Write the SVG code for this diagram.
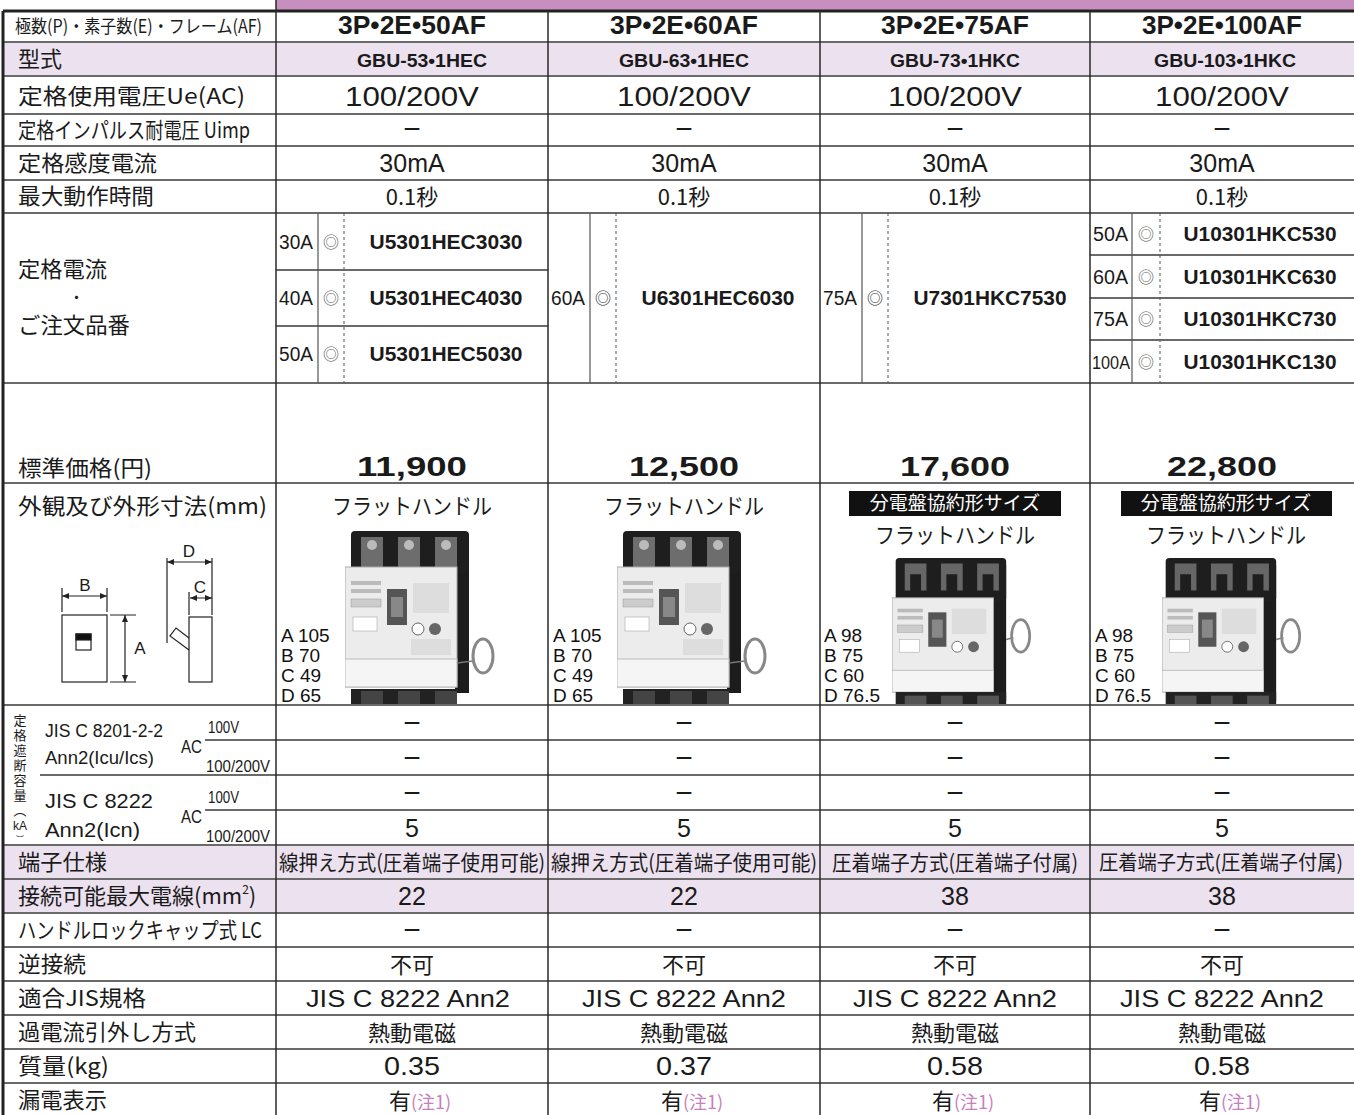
<svg xmlns="http://www.w3.org/2000/svg" xmlns:xlink="http://www.w3.org/1999/xlink" width="1354" height="1115" viewBox="0 0 1354 1115">
<style>
.h{stroke:#6a6a6a;stroke-width:2;fill:none}
.v{stroke:#2a2a2a;stroke-width:1.5;fill:none}
.s{stroke:#555;stroke-width:1.2;fill:none}
.d{stroke:#555;stroke-width:1;stroke-dasharray:3 3;fill:none}
.jp{font-family:"Noto Sans CJK JP","Noto Sans CJK SC",sans-serif;fill:#1a1a1a}
.en{font-family:"Liberation Sans",Arial,sans-serif;fill:#1a1a1a}
.lb{font-size:22px}
.c{text-anchor:middle}
.b{font-weight:bold}
.note{fill:#c77ec0;font-size:18px}
.dim{font-family:"Liberation Sans",Arial,sans-serif;font-size:19px;fill:#111}
.dash{font-family:"Liberation Sans",Arial,sans-serif;font-size:30px;fill:#1a1a1a;text-anchor:middle}
</style>
<defs>
<clipPath id="photoRow"><rect x="276" y="484" width="1078" height="220"/></clipPath>
<symbol id="brkA" viewBox="0 0 160 180">
<rect x="110" y="22" width="14" height="140" fill="#1c1c1c"/>
<rect x="6" y="0" width="118" height="42" rx="4" fill="#1e1e1e"/>
<rect x="16" y="6" width="22" height="30" fill="#6d6d6d"/>
<rect x="53" y="6" width="22" height="30" fill="#6d6d6d"/>
<rect x="90" y="6" width="22" height="30" fill="#6d6d6d"/>
<circle cx="27" cy="14" r="5" fill="#bbb"/><circle cx="64" cy="14" r="5" fill="#bbb"/><circle cx="101" cy="14" r="5" fill="#bbb"/>
<rect x="0" y="36" width="112" height="120" fill="#ececec" stroke="#aaa"/>
<rect x="0" y="128" width="112" height="28" fill="#f5f5f5" stroke="#bbb"/>
<rect x="42" y="58" width="20" height="36" fill="#555"/>
<rect x="46" y="66" width="12" height="20" fill="#888"/>
<rect x="6" y="50" width="30" height="4" fill="#bbb"/><rect x="6" y="58" width="30" height="4" fill="#bbb"/>
<rect x="6" y="68" width="30" height="8" fill="#ccc" stroke="#999" stroke-width="0.5"/>
<rect x="8" y="86" width="24" height="14" fill="#fff" stroke="#999" stroke-width="0.5"/>
<rect x="68" y="52" width="36" height="30" fill="#ddd"/>
<circle cx="73" cy="98" r="6" fill="#fff" stroke="#666"/>
<circle cx="90" cy="98" r="6" fill="#666"/>
<rect x="66" y="108" width="40" height="16" fill="#ddd"/>
<rect x="6" y="158" width="106" height="22" fill="#222"/>
<rect x="16" y="160" width="22" height="18" fill="#444"/><rect x="53" y="160" width="22" height="18" fill="#444"/><rect x="90" y="160" width="22" height="18" fill="#444"/>
<path d="M112 132 L128 130" stroke="#777" stroke-width="1.5"/>
<ellipse cx="138" cy="125" rx="10" ry="17" fill="none" stroke="#888" stroke-width="3"/>
</symbol>
<symbol id="brkB" viewBox="0 0 160 180">
<rect x="110" y="8" width="16" height="150" fill="#1c1c1c"/>
<rect x="4" y="0" width="122" height="48" rx="4" fill="#1e1e1e"/>
<path d="M14 6 h24 v30 h-6 v-18 h-12 v18 h-6z" fill="#666"/>
<path d="M54 6 h24 v30 h-6 v-18 h-12 v18 h-6z" fill="#666"/>
<path d="M94 6 h24 v30 h-6 v-18 h-12 v18 h-6z" fill="#666"/>
<rect x="0" y="44" width="112" height="104" fill="#ececec" stroke="#aaa"/>
<rect x="0" y="124" width="112" height="24" fill="#f5f5f5" stroke="#bbb"/>
<rect x="40" y="60" width="20" height="38" fill="#555"/>
<rect x="44" y="68" width="12" height="20" fill="#888"/>
<rect x="6" y="56" width="28" height="4" fill="#bbb"/><rect x="6" y="64" width="28" height="4" fill="#bbb"/>
<rect x="6" y="74" width="28" height="8" fill="#ccc" stroke="#999" stroke-width="0.5"/>
<rect x="8" y="90" width="22" height="14" fill="#fff" stroke="#999" stroke-width="0.5"/>
<rect x="66" y="56" width="38" height="28" fill="#ddd"/>
<circle cx="72" cy="98" r="6" fill="#fff" stroke="#666"/>
<circle cx="90" cy="98" r="6" fill="#666"/>
<rect x="4" y="148" width="122" height="32" fill="#222"/>
<rect x="14" y="152" width="24" height="26" fill="#555"/><rect x="54" y="152" width="24" height="26" fill="#555"/><rect x="94" y="152" width="24" height="26" fill="#555"/>
<path d="M126 90 L134 88" stroke="#777" stroke-width="1.5"/>
<ellipse cx="142" cy="86" rx="10" ry="18" fill="none" stroke="#888" stroke-width="3"/>
</symbol>
</defs>

<g id="background">
<rect x="0" y="0" width="1354" height="1115" fill="#ffffff"/>
<rect x="276" y="0" width="1078" height="10" fill="#c68fc0"/>
<rect x="3" y="42" width="1351" height="34" fill="#ece1ef"/>
<rect x="3" y="845" width="1351" height="68" fill="#ece1ef"/>
</g>

<g id="grid">
<path class="h" d="M3 42H1354M3 76H1354M3 114H1354M3 146H1354M3 180H1354M3 213H1354M3 383H1354M3 483H1354M3 705H1354M40 775H1354M3 845H1354M3 879H1354M3 913H1354M3 947H1354M3 981H1354M3 1015H1354M3 1049H1354M3 1083H1354"/>
<path class="h" d="M205 740H1354M205 810H1354"/>
<path class="h" d="M276 270H548M276 326H548M1090 255H1354M1090 298H1354M1090 340H1354"/>
<path d="M3 11H1354" stroke="#222" stroke-width="3"/>
<path d="M3 11V1115" stroke="#222" stroke-width="3"/>
<path class="v" d="M276 0V1115M548 11V1115M820 11V1115M1090 11V1115"/>
<path class="s" d="M318 213V383M590 213V383M862 213V383M1132 213V383"/>
<path class="d" d="M344 213V383M616 213V383M888 213V383M1160 213V383"/>
</g>

<g id="labels" class="jp lb">
<text x="15" y="33" font-size="18" textLength="247" lengthAdjust="spacingAndGlyphs">極数(P)・素子数(E)・フレーム(AF)</text>
<text x="18" y="67">型式</text>
<text x="18" y="104" textLength="227" lengthAdjust="spacingAndGlyphs">定格使用電圧Ue(AC)</text>
<text x="18" y="138" textLength="232" lengthAdjust="spacingAndGlyphs">定格インパルス耐電圧 Uimp</text>
<text x="18" y="171" textLength="139" lengthAdjust="spacingAndGlyphs">定格感度電流</text>
<text x="18" y="204" textLength="136" lengthAdjust="spacingAndGlyphs">最大動作時間</text>
<text x="18" y="277" textLength="89" lengthAdjust="spacingAndGlyphs">定格電流</text>
<text x="69" y="303" font-size="15">・</text>
<text x="18" y="333" textLength="112" lengthAdjust="spacingAndGlyphs">ご注文品番</text>
<text x="18" y="476" textLength="134" lengthAdjust="spacingAndGlyphs">標準価格(円)</text>
<text x="18" y="514" textLength="249" lengthAdjust="spacingAndGlyphs">外観及び外形寸法(mm)</text>
<text x="18" y="870" textLength="89" lengthAdjust="spacingAndGlyphs">端子仕様</text>
<text x="18" y="904">接続可能最大電線(mm<tspan font-size="12" dy="-10">2</tspan><tspan dy="10">)</tspan></text>
<text x="18" y="938" textLength="244" lengthAdjust="spacingAndGlyphs">ハンドルロックキャップ式 LC</text>
<text x="18" y="972" textLength="68" lengthAdjust="spacingAndGlyphs">逆接続</text>
<text x="18" y="1006" textLength="128" lengthAdjust="spacingAndGlyphs">適合JIS規格</text>
<text x="18" y="1040" textLength="178" lengthAdjust="spacingAndGlyphs">過電流引外し方式</text>
<text x="18" y="1074" textLength="91" lengthAdjust="spacingAndGlyphs">質量(kg)</text>
<text x="18" y="1108" textLength="89" lengthAdjust="spacingAndGlyphs">漏電表示</text>
</g>

<g id="breaking-label" class="jp">
<text x="20" y="714" writing-mode="tb" font-size="13" letter-spacing="2">定格遮断容量︵</text>
<text x="20" y="830" class="c en" font-size="12">kA</text>
<text x="20" y="842" class="c" font-size="8">︶</text>
<g class="en">
<text x="45" y="737" font-size="18" textLength="118" lengthAdjust="spacingAndGlyphs">JIS C 8201-2-2</text>
<text x="45" y="764" font-size="18" textLength="109" lengthAdjust="spacingAndGlyphs">Ann2(Icu/Ics)</text>
<text x="181" y="753" font-size="18" textLength="21" lengthAdjust="spacingAndGlyphs">AC</text>
<text x="208" y="733" font-size="16" textLength="31" lengthAdjust="spacingAndGlyphs">100V</text>
<text x="206" y="772" font-size="16" textLength="64" lengthAdjust="spacingAndGlyphs">100/200V</text>
<text x="45" y="808" font-size="21" textLength="108" lengthAdjust="spacingAndGlyphs">JIS C 8222</text>
<text x="45" y="837" font-size="21" textLength="95" lengthAdjust="spacingAndGlyphs">Ann2(Icn)</text>
<text x="181" y="823" font-size="18" textLength="21" lengthAdjust="spacingAndGlyphs">AC</text>
<text x="208" y="803" font-size="16" textLength="31" lengthAdjust="spacingAndGlyphs">100V</text>
<text x="206" y="842" font-size="16" textLength="64" lengthAdjust="spacingAndGlyphs">100/200V</text>
</g>
</g>

<g id="dimension-figure" stroke="#222" stroke-width="1.2" fill="none">
<rect x="62" y="615" width="45" height="67" fill="#fff"/>
<rect x="76" y="634" width="15" height="16" fill="#fff"/>
<rect x="76" y="634" width="15" height="6" fill="#111"/>
<path d="M62 588V612M107 588V612M62 596H107"/>
<path d="M110 615H136M110 682H136M125 615V682"/>
<rect x="189" y="617" width="23" height="65" fill="#fff"/>
<path d="M189 650L170 636L176 628L189 638"/>
<path d="M167 558V643M212 558V615M189 592V615M167 562H212M190 598H212"/>
<g fill="#222" stroke="none">
<path d="M62 596l7 -3v6zM107 596l-7 -3v6zM125 615l-3 7h6zM125 682l-3 -7h6zM167 562l7 -3v6zM212 562l-7 -3v6zM190 598l7 -3v6zM212 598l-7 -3v6z"/>
</g>
<g class="en" stroke="none" fill="#111" font-size="17">
<text x="85" y="591" class="c">B</text>
<text x="140" y="654" class="c">A</text>
<text x="189" y="557" class="c">D</text>
<text x="200" y="593" class="c">C</text>
</g>
</g>

<g id="photos" clip-path="url(#photoRow)">
<use xlink:href="#brkA" href="#brkA" x="345" y="531" width="160" height="180"/>
<use xlink:href="#brkA" href="#brkA" x="617" y="531" width="160" height="180"/>
<use xlink:href="#brkB" href="#brkB" x="892" y="558" width="145" height="163"/>
<use xlink:href="#brkB" href="#brkB" x="1162" y="558" width="145" height="163"/>
</g>

<g id="col1">
<text class="en b c" x="412" y="34" font-size="26" textLength="148" lengthAdjust="spacingAndGlyphs">3P•2E•50AF</text>
<text class="en b c" x="422" y="67" font-size="19" textLength="130" lengthAdjust="spacingAndGlyphs">GBU-53•1HEC</text>
<text class="en c" x="412" y="106" font-size="27" textLength="134" lengthAdjust="spacingAndGlyphs">100/200V</text>
<text class="dash" x="412" y="139">−</text>
<text class="en c" x="412" y="172" font-size="25">30mA</text>
<text class="jp c" x="412" y="205" font-size="22">0.1秒</text>
<g class="en" font-size="20">
<text x="279" y="249" textLength="34" lengthAdjust="spacingAndGlyphs">30A</text>
<text x="279" y="305" textLength="34" lengthAdjust="spacingAndGlyphs">40A</text>
<text x="279" y="361" textLength="34" lengthAdjust="spacingAndGlyphs">50A</text>
</g>
<g class="jp c" font-size="16">
<text x="331" y="248" fill="#555">◎</text><text x="331" y="304" fill="#555">◎</text><text x="331" y="360" fill="#555">◎</text>
</g>
<g class="en b c" font-size="20">
<text x="446" y="249" textLength="153" lengthAdjust="spacingAndGlyphs">U5301HEC3030</text>
<text x="446" y="305" textLength="153" lengthAdjust="spacingAndGlyphs">U5301HEC4030</text>
<text x="446" y="361" textLength="153" lengthAdjust="spacingAndGlyphs">U5301HEC5030</text>
</g>
<text class="en b c" x="412" y="476" font-size="28" textLength="110" lengthAdjust="spacingAndGlyphs">11,900</text>
<text class="jp c" x="412" y="514" font-size="22" textLength="160" lengthAdjust="spacingAndGlyphs">フラットハンドル</text>
<g class="dim"><text x="281" y="642">A 105</text><text x="281" y="662">B 70</text><text x="281" y="682">C 49</text><text x="281" y="702">D 65</text></g>
<text class="dash" x="412" y="733">−</text><text class="dash" x="412" y="768">−</text><text class="dash" x="412" y="803">−</text>
<text class="en c" x="412" y="837" font-size="25">5</text>
<text class="jp c" x="412" y="870" font-size="21" textLength="266" lengthAdjust="spacingAndGlyphs">線押え方式(圧着端子使用可能)</text>
<text class="en c" x="412" y="905" font-size="25">22</text>
<text class="dash" x="412" y="940">−</text>
<text class="jp c" x="412" y="973" font-size="22">不可</text>
<text class="en c" x="408" y="1007" font-size="24" textLength="204" lengthAdjust="spacingAndGlyphs">JIS C 8222 Ann2</text>
<text class="jp c" x="412" y="1041" font-size="22">熱動電磁</text>
<text class="en c" x="412" y="1075" font-size="25" textLength="56" lengthAdjust="spacingAndGlyphs">0.35</text>
<text class="jp" x="389" y="1109" font-size="22">有<tspan class="note">(注1)</tspan></text>
</g>

<g id="col2">
<text class="en b c" x="684" y="34" font-size="26" textLength="148" lengthAdjust="spacingAndGlyphs">3P•2E•60AF</text>
<text class="en b c" x="684" y="67" font-size="19" textLength="130" lengthAdjust="spacingAndGlyphs">GBU-63•1HEC</text>
<text class="en c" x="684" y="106" font-size="27" textLength="134" lengthAdjust="spacingAndGlyphs">100/200V</text>
<text class="dash" x="684" y="139">−</text>
<text class="en c" x="684" y="172" font-size="25">30mA</text>
<text class="jp c" x="684" y="205" font-size="22">0.1秒</text>
<text class="en" x="551" y="305" font-size="20" textLength="34" lengthAdjust="spacingAndGlyphs">60A</text>
<text class="jp c" x="603" y="304" font-size="16" fill="#555">◎</text>
<text class="en b c" x="718" y="305" font-size="20" textLength="153" lengthAdjust="spacingAndGlyphs">U6301HEC6030</text>
<text class="en b c" x="684" y="476" font-size="28" textLength="110" lengthAdjust="spacingAndGlyphs">12,500</text>
<text class="jp c" x="684" y="514" font-size="22" textLength="160" lengthAdjust="spacingAndGlyphs">フラットハンドル</text>
<g class="dim"><text x="553" y="642">A 105</text><text x="553" y="662">B 70</text><text x="553" y="682">C 49</text><text x="553" y="702">D 65</text></g>
<text class="dash" x="684" y="733">−</text><text class="dash" x="684" y="768">−</text><text class="dash" x="684" y="803">−</text>
<text class="en c" x="684" y="837" font-size="25">5</text>
<text class="jp c" x="684" y="870" font-size="21" textLength="266" lengthAdjust="spacingAndGlyphs">線押え方式(圧着端子使用可能)</text>
<text class="en c" x="684" y="905" font-size="25">22</text>
<text class="dash" x="684" y="940">−</text>
<text class="jp c" x="684" y="973" font-size="22">不可</text>
<text class="en c" x="684" y="1007" font-size="24" textLength="204" lengthAdjust="spacingAndGlyphs">JIS C 8222 Ann2</text>
<text class="jp c" x="684" y="1041" font-size="22">熱動電磁</text>
<text class="en c" x="684" y="1075" font-size="25" textLength="56" lengthAdjust="spacingAndGlyphs">0.37</text>
<text class="jp" x="661" y="1109" font-size="22">有<tspan class="note">(注1)</tspan></text>
</g>

<g id="col3">
<text class="en b c" x="955" y="34" font-size="26" textLength="148" lengthAdjust="spacingAndGlyphs">3P•2E•75AF</text>
<text class="en b c" x="955" y="67" font-size="19" textLength="130" lengthAdjust="spacingAndGlyphs">GBU-73•1HKC</text>
<text class="en c" x="955" y="106" font-size="27" textLength="134" lengthAdjust="spacingAndGlyphs">100/200V</text>
<text class="dash" x="955" y="139">−</text>
<text class="en c" x="955" y="172" font-size="25">30mA</text>
<text class="jp c" x="955" y="205" font-size="22">0.1秒</text>
<text class="en" x="823" y="305" font-size="20" textLength="34" lengthAdjust="spacingAndGlyphs">75A</text>
<text class="jp c" x="875" y="304" font-size="16" fill="#555">◎</text>
<text class="en b c" x="990" y="305" font-size="20" textLength="153" lengthAdjust="spacingAndGlyphs">U7301HKC7530</text>
<text class="en b c" x="955" y="476" font-size="28" textLength="110" lengthAdjust="spacingAndGlyphs">17,600</text>
<rect x="849" y="491" width="212" height="25" fill="#111"/>
<text class="jp c" x="955" y="510" font-size="19" style="fill:#fff">分電盤協約形サイズ</text>
<text class="jp c" x="955" y="543" font-size="22" textLength="160" lengthAdjust="spacingAndGlyphs">フラットハンドル</text>
<g class="dim"><text x="824" y="642">A 98</text><text x="824" y="662">B 75</text><text x="824" y="682">C 60</text><text x="824" y="702">D 76.5</text></g>
<text class="dash" x="955" y="733">−</text><text class="dash" x="955" y="768">−</text><text class="dash" x="955" y="803">−</text>
<text class="en c" x="955" y="837" font-size="25">5</text>
<text class="jp c" x="955" y="870" font-size="21" textLength="246" lengthAdjust="spacingAndGlyphs">圧着端子方式(圧着端子付属)</text>
<text class="en c" x="955" y="905" font-size="25">38</text>
<text class="dash" x="955" y="940">−</text>
<text class="jp c" x="955" y="973" font-size="22">不可</text>
<text class="en c" x="955" y="1007" font-size="24" textLength="204" lengthAdjust="spacingAndGlyphs">JIS C 8222 Ann2</text>
<text class="jp c" x="955" y="1041" font-size="22">熱動電磁</text>
<text class="en c" x="955" y="1075" font-size="25" textLength="56" lengthAdjust="spacingAndGlyphs">0.58</text>
<text class="jp" x="932" y="1109" font-size="22">有<tspan class="note">(注1)</tspan></text>
</g>

<g id="col4">
<text class="en b c" x="1222" y="34" font-size="26" textLength="160" lengthAdjust="spacingAndGlyphs">3P•2E•100AF</text>
<text class="en b c" x="1225" y="67" font-size="19" textLength="142" lengthAdjust="spacingAndGlyphs">GBU-103•1HKC</text>
<text class="en c" x="1222" y="106" font-size="27" textLength="134" lengthAdjust="spacingAndGlyphs">100/200V</text>
<text class="dash" x="1222" y="139">−</text>
<text class="en c" x="1222" y="172" font-size="25">30mA</text>
<text class="jp c" x="1222" y="205" font-size="22">0.1秒</text>
<g class="en" font-size="20">
<text x="1093" y="241" textLength="35" lengthAdjust="spacingAndGlyphs">50A</text>
<text x="1093" y="284" textLength="35" lengthAdjust="spacingAndGlyphs">60A</text>
<text x="1093" y="326" textLength="35" lengthAdjust="spacingAndGlyphs">75A</text>
<text x="1092" y="369" font-size="18" textLength="38" lengthAdjust="spacingAndGlyphs">100A</text>
</g>
<g class="jp c" font-size="16">
<text x="1146" y="240" fill="#555">◎</text><text x="1146" y="283" fill="#555">◎</text><text x="1146" y="325" fill="#555">◎</text><text x="1146" y="368" fill="#555">◎</text>
</g>
<g class="en b c" font-size="20">
<text x="1260" y="241" textLength="153" lengthAdjust="spacingAndGlyphs">U10301HKC530</text>
<text x="1260" y="284" textLength="153" lengthAdjust="spacingAndGlyphs">U10301HKC630</text>
<text x="1260" y="326" textLength="153" lengthAdjust="spacingAndGlyphs">U10301HKC730</text>
<text x="1260" y="369" textLength="153" lengthAdjust="spacingAndGlyphs">U10301HKC130</text>
</g>
<text class="en b c" x="1222" y="476" font-size="28" textLength="110" lengthAdjust="spacingAndGlyphs">22,800</text>
<rect x="1121" y="491" width="211" height="25" fill="#111"/>
<text class="jp c" x="1226" y="510" font-size="19" style="fill:#fff">分電盤協約形サイズ</text>
<text class="jp c" x="1226" y="543" font-size="22" textLength="160" lengthAdjust="spacingAndGlyphs">フラットハンドル</text>
<g class="dim"><text x="1095" y="642">A 98</text><text x="1095" y="662">B 75</text><text x="1095" y="682">C 60</text><text x="1095" y="702">D 76.5</text></g>
<text class="dash" x="1222" y="733">−</text><text class="dash" x="1222" y="768">−</text><text class="dash" x="1222" y="803">−</text>
<text class="en c" x="1222" y="837" font-size="25">5</text>
<text class="jp c" x="1221" y="870" font-size="20" textLength="244" lengthAdjust="spacingAndGlyphs">圧着端子方式(圧着端子付属)</text>
<text class="en c" x="1222" y="905" font-size="25">38</text>
<text class="dash" x="1222" y="940">−</text>
<text class="jp c" x="1222" y="973" font-size="22">不可</text>
<text class="en c" x="1222" y="1007" font-size="24" textLength="204" lengthAdjust="spacingAndGlyphs">JIS C 8222 Ann2</text>
<text class="jp c" x="1222" y="1041" font-size="22">熱動電磁</text>
<text class="en c" x="1222" y="1075" font-size="25" textLength="56" lengthAdjust="spacingAndGlyphs">0.58</text>
<text class="jp" x="1199" y="1109" font-size="22">有<tspan class="note">(注1)</tspan></text>
</g>
</svg>
